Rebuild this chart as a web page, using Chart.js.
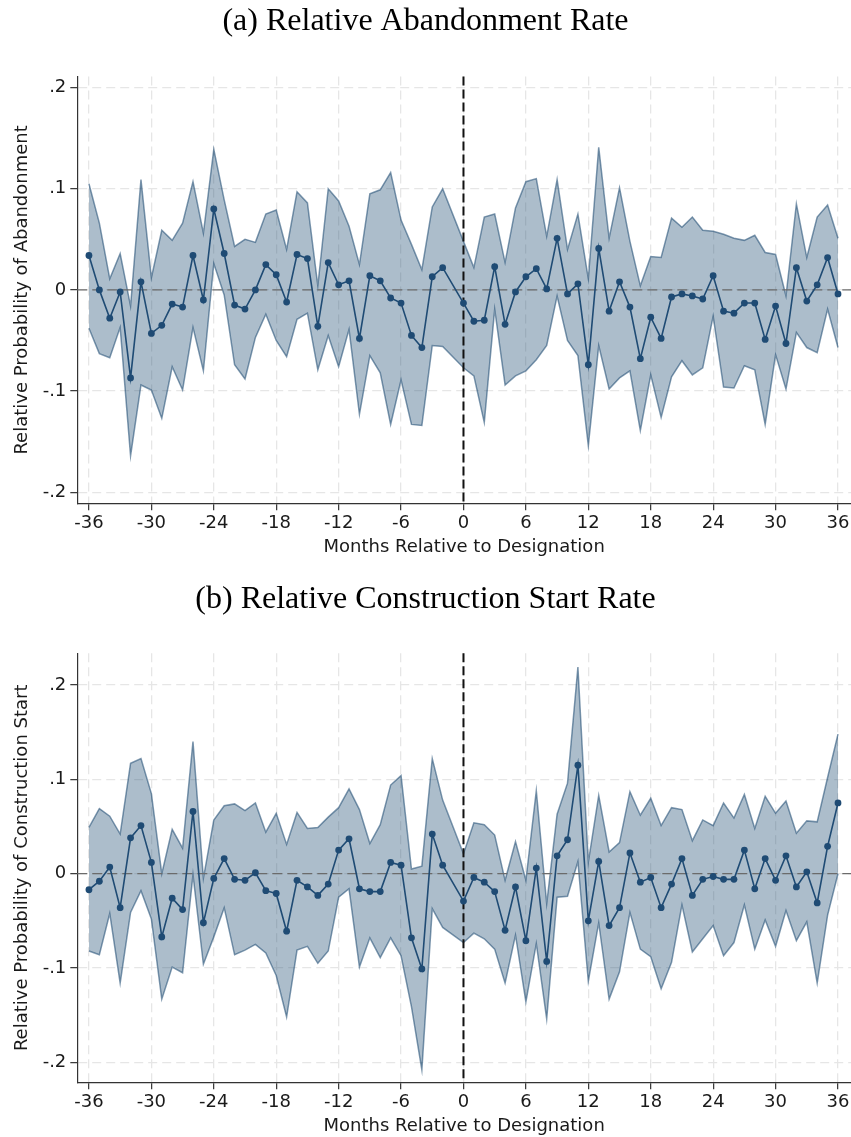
<!DOCTYPE html>
<html>
<head>
<meta charset="utf-8">
<title>Relative abandonment and construction start rates</title>
<script src="https://cdn.jsdelivr.net/npm/chart.js@4.4.1/dist/chart.umd.min.js"></script>
<style>
  html, body { margin: 0; padding: 0; background: #fff; }
  canvas { display: block; }
</style>
</head>
<body>
<canvas id="chartA" width="851" height="568"></canvas>
<canvas id="chartB" width="851" height="569"></canvas>
<script>
// months relative to designation (-1 is the omitted reference month)
var months = [-36,-35,-34,-33,-32,-31,-30,-29,-28,-27,-26,-25,-24,-23,-22,-21,-20,-19,-18,-17,
  -16,-15,-14,-13,-12,-11,-10,-9,-8,-7,-6,-5,-4,-3,-2,
  0,1,2,3,4,5,6,7,8,9,10,11,12,13,14,15,16,17,18,19,20,21,22,23,24,25,26,27,28,29,30,31,32,33,34,35,36];

var xTicks = [-36,-30,-24,-18,-12,-6,0,6,12,18,24,30,36];
var yTicks = [-0.2,-0.1,0,0.1,0.2];
var yTickLabels = ['-.2','-.1','0','.1','.2'];

// (a) abandonment
var abandonEst = [0.034,0.000,-0.028,-0.002,-0.087,0.008,-0.043,-0.035,-0.014,-0.017,0.034,-0.010,0.080,0.036,-0.015,-0.019,0.000,0.025,0.015,-0.012,
  0.035,0.031,-0.036,0.027,0.005,0.009,-0.048,0.014,0.009,-0.008,-0.013,-0.045,-0.057,0.013,0.022,
  -0.013,-0.031,-0.030,0.023,-0.034,-0.002,0.013,0.021,0.001,0.051,-0.004,0.006,-0.074,0.041,-0.021,0.008,-0.017,-0.068,-0.027,-0.048,
  -0.007,-0.004,-0.006,-0.009,0.014,-0.021,-0.023,-0.013,-0.013,-0.049,-0.016,-0.053,0.022,-0.011,0.005,0.032,-0.004];
var abandonHi = [0.105,0.066,0.011,0.036,-0.016,0.109,0.012,0.059,0.049,0.066,0.107,0.056,0.139,0.089,0.043,0.050,0.047,0.075,0.079,0.040,
  0.097,0.086,0.004,0.100,0.088,0.063,0.025,0.095,0.099,0.116,0.069,0.045,0.020,0.082,0.100,
  0.048,0.022,0.072,0.075,0.027,0.081,0.107,0.110,0.053,0.109,0.040,0.075,0.011,0.141,0.051,0.101,0.048,0.004,0.033,0.032,
  0.071,0.062,0.072,0.059,0.058,0.055,0.051,0.049,0.054,0.037,0.035,-0.006,0.085,0.032,0.072,0.084,0.051];
var abandonLo = [-0.038,-0.063,-0.067,-0.037,-0.164,-0.094,-0.099,-0.127,-0.076,-0.099,-0.037,-0.080,0.026,-0.005,-0.074,-0.088,-0.047,-0.024,-0.050,-0.066,
  -0.029,-0.023,-0.079,-0.045,-0.076,-0.039,-0.123,-0.065,-0.082,-0.133,-0.089,-0.133,-0.134,-0.055,-0.056,
  -0.077,-0.085,-0.131,-0.019,-0.094,-0.085,-0.080,-0.069,-0.055,-0.006,-0.050,-0.065,-0.154,-0.055,-0.098,-0.087,-0.080,-0.139,-0.084,-0.126,
  -0.086,-0.070,-0.084,-0.077,-0.026,-0.096,-0.097,-0.075,-0.079,-0.133,-0.064,-0.098,-0.042,-0.057,-0.062,-0.019,-0.057];

// (b) construction start
var startEst = [-0.017,-0.008,0.007,-0.036,0.038,0.051,0.012,-0.067,-0.026,-0.038,0.066,-0.052,-0.005,0.016,-0.006,-0.007,0.001,-0.018,-0.021,-0.061,
  -0.007,-0.014,-0.023,-0.011,0.025,0.037,-0.016,-0.019,-0.019,0.012,0.009,-0.068,-0.101,0.042,0.009,
  -0.029,-0.004,-0.009,-0.019,-0.060,-0.014,-0.071,0.006,-0.093,0.019,0.036,0.115,-0.050,0.013,-0.055,-0.036,0.022,-0.009,-0.004,-0.036,
  -0.011,0.016,-0.023,-0.006,-0.003,-0.006,-0.006,0.025,-0.016,0.016,-0.007,0.019,-0.014,0.002,-0.031,0.029,0.075];
var startHi = [0.049,0.069,0.061,0.042,0.117,0.122,0.085,0.000,0.047,0.027,0.140,-0.005,0.057,0.072,0.074,0.067,0.075,0.044,0.064,0.031,
  0.065,0.048,0.049,0.060,0.070,0.090,0.068,0.032,0.052,0.094,0.104,0.005,0.008,0.122,0.078,
  0.021,0.054,0.052,0.041,-0.007,0.034,-0.007,0.088,-0.032,0.063,0.096,0.219,0.012,0.083,0.023,0.033,0.087,0.062,0.080,0.051,
  0.070,0.068,0.035,0.057,0.051,0.075,0.059,0.084,0.048,0.082,0.064,0.077,0.043,0.056,0.055,0.102,0.148];
var startLo = [-0.082,-0.086,-0.042,-0.116,-0.041,-0.018,-0.048,-0.133,-0.099,-0.105,-0.001,-0.096,-0.067,-0.036,-0.086,-0.081,-0.075,-0.084,-0.108,-0.152,
  -0.081,-0.077,-0.095,-0.082,-0.025,-0.016,-0.099,-0.068,-0.089,-0.068,-0.087,-0.141,-0.208,-0.037,-0.057,
  -0.073,-0.063,-0.069,-0.080,-0.116,-0.065,-0.136,-0.074,-0.154,-0.025,-0.024,0.013,-0.114,-0.052,-0.133,-0.104,-0.041,-0.080,-0.088,-0.122,
  -0.094,-0.033,-0.083,-0.069,-0.055,-0.087,-0.073,-0.033,-0.080,-0.049,-0.077,-0.039,-0.071,-0.051,-0.116,-0.044,0.000];

var navy = '#1f4b74';
var bandFill = 'rgba(26,71,111,0.36)';
var bandEdge = 'rgba(26,71,111,0.55)';

Chart.defaults.font.family = 'DejaVu Sans';
Chart.defaults.color = '#1a1a1a';

// dashed zero line and the designation line, drawn under the point estimates
var refLines = {
  id: 'refLines',
  beforeDatasetDraw: function(chart, args) {
    if (args.index !== 0) return;
    var ctx = chart.ctx, a = chart.chartArea;
    var y0 = chart.scales.y.getPixelForValue(0);
    var x0 = chart.scales.x.getPixelForValue(0);
    ctx.save();
    ctx.lineWidth = 1.3;
    ctx.strokeStyle = '#6b6b6b';
    ctx.setLineDash([10, 5]);
    ctx.beginPath(); ctx.moveTo(a.left, y0); ctx.lineTo(a.right, y0); ctx.stroke();
    ctx.lineWidth = 2;
    ctx.strokeStyle = '#111';
    ctx.setLineDash([9, 4]);
    ctx.beginPath(); ctx.moveTo(x0, a.top); ctx.lineTo(x0, a.bottom); ctx.stroke();
    ctx.restore();
  }
};

function pts(arr) {
  return months.map(function(m, i) { return {x: m, y: arr[i]}; });
}

function makePanel(id, cfg) {
  return new Chart(document.getElementById(id), {
    type: 'line',
    data: {
      datasets: [
        { data: pts(cfg.est), borderColor: navy, borderWidth: 1.6, tension: 0,
          pointRadius: 3.4, pointBackgroundColor: navy, pointBorderWidth: 0, fill: false },
        { data: pts(cfg.hi), borderColor: bandEdge, borderWidth: 1.5, tension: 0,
          pointRadius: 0, fill: '+1', backgroundColor: bandFill },
        { data: pts(cfg.lo), borderColor: bandEdge, borderWidth: 1.5, tension: 0,
          pointRadius: 0, fill: false }
      ]
    },
    options: {
      responsive: false,
      animation: false,
      layout: { padding: 0, autoPadding: false },
      plugins: {
        legend: { display: false },
        tooltip: { enabled: false },
        filler: { drawTime: 'beforeDatasetsDraw', propagate: false },
        title: {
          display: true,
          text: cfg.title,
          color: '#000',
          font: { family: 'Liberation Serif', size: 32, weight: 'normal' },
          padding: { top: cfg.titleTop, bottom: cfg.titleBottom }
        }
      },
      scales: {
        x: {
          type: 'linear',
          min: -37.12, max: 37.25,
          afterBuildTicks: function(s) { s.ticks = xTicks.map(function(v) { return {value: v}; }); },
          afterFit: function(s) { s.height = cfg.xHeight; s.paddingLeft = 0; s.paddingRight = 0; },
          ticks: { font: { size: 18 }, color: '#1a1a1a', padding: 2, maxRotation: 0,
                   callback: function(v) { return String(v); } },
          grid: { color: '#e6e6e6', lineWidth: 1.3, tickLength: 7, tickColor: '#333', tickWidth: 1.2 },
          border: { color: '#333', width: 1.2, dash: [9, 5] },
          title: { display: true, text: 'Months Relative to Designation', color: '#1a1a1a',
                   font: { size: 18 }, padding: { top: 0, bottom: cfg.xTitleBottom } }
        },
        y: {
          min: cfg.yMin, max: cfg.yMax,
          afterBuildTicks: function(s) { s.ticks = yTicks.map(function(v) { return {value: v}; }); },
          afterFit: function(s) { s.width = 77.3; },
          ticks: { font: { size: 18 }, color: '#1a1a1a', padding: 4,
                   callback: function(v) { return yTickLabels[yTicks.indexOf(v)]; } },
          grid: { color: '#e6e6e6', lineWidth: 1.3, tickLength: 7, tickColor: '#333', tickWidth: 1.2 },
          border: { color: '#333', width: 1.2, dash: [9, 5] },
          title: { display: true, text: cfg.yLabel, color: '#1a1a1a',
                   font: { size: 18 }, padding: { top: 12, bottom: 0 } }
        }
      }
    },
    plugins: [refLines]
  });
}

makePanel('chartA', {
  title: '(a) Relative Abandonment Rate',
  yLabel: 'Relative Probability of Abandonment',
  est: abandonEst, hi: abandonHi, lo: abandonLo,
  yMin: -0.211, yMax: 0.211,
  titleTop: 2.5, titleBottom: 35.6,
  xHeight: 64.7, xTitleBottom: 9.9
});

makePanel('chartB', {
  title: '(b) Relative Construction Start Rate',
  yLabel: 'Relative Probability of Construction Start',
  est: startEst, hi: startHi, lo: startLo,
  yMin: -0.2212, yMax: 0.2337,
  titleTop: 12.8, titleBottom: 34.1,
  xHeight: 54.7, xTitleBottom: 0
});
</script>
</body>
</html>
